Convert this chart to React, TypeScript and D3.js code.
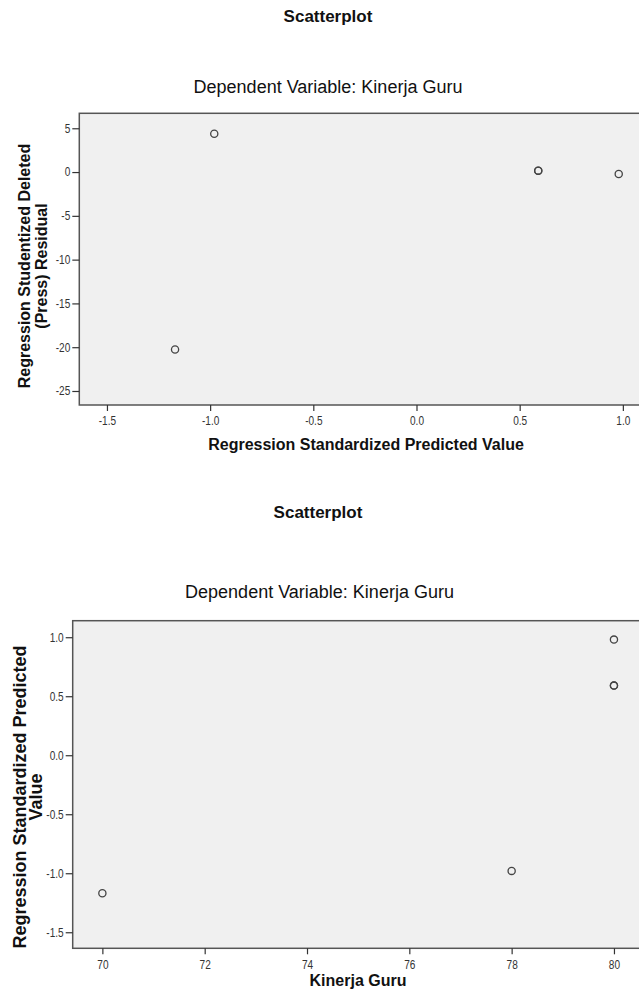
import React, { useEffect, useRef } from "react";
import * as d3 from "d3";

// Cases (same five cases in both plots)
const predictedValue = [-1.17, -0.98, 0.59, 0.59, 0.98];
const deletedResidual = [-20.27, 4.38, 0.16, 0.16, -0.22];
const kinerjaGuru = [70, 78, 80, 80, 80];

// Tick labels
const topXTicks = [-1.5, -1.0, -0.5, 0.0, 0.5, 1.0];
const topYTicks = [5, 0, -5, -10, -15, -20, -25];
const botXTicks = [70, 72, 74, 76, 78, 80];
const botYTicks = [1.0, 0.5, 0.0, -0.5, -1.0, -1.5];

const W = 639;
const H = 1000;
const FONT = "'Liberation Sans', Arial, Helvetica, sans-serif";
const TICK_FS = 12;
const TICK_SX = 0.84;

type PanelCfg = {
  left: number; top: number; bottom: number; right: number;
  xDomain: [number, number]; yDomain: [number, number];
  xs: number[]; ys: number[];
  xTicks: number[]; yTicks: number[];
  xFmt: (d: number) => string; yFmt: (d: number) => string;
  title: string; titleX: number; titleY: number;
  subtitle: string; subX: number; subY: number;
  xTitle: string; xTitleX: number; xTitleY: number;
  yTitle: string[]; yTitleCenter: number; yTitleBases: number[]; yTitleSize: number;
  xTickPad: number;
};

function drawPanel(svg: d3.Selection<SVGSVGElement, unknown, null, undefined>, c: PanelCfg) {
  const g = svg.append("g");
  const x = d3.scaleLinear().domain(c.xDomain).range([c.left, c.right]);
  const y = d3.scaleLinear().domain(c.yDomain).range([c.bottom, c.top]);

  g.append("text").attr("x", c.titleX).attr("y", c.titleY).attr("text-anchor", "middle")
    .attr("font-family", FONT).attr("font-weight", "bold").attr("font-size", 17).attr("fill", "#111").text(c.title);
  g.append("text").attr("x", c.subX).attr("y", c.subY).attr("text-anchor", "middle")
    .attr("font-family", FONT).attr("font-size", 18).attr("fill", "#111").text(c.subtitle);

  g.append("rect").attr("x", c.left).attr("y", c.top)
    .attr("width", c.right - c.left).attr("height", c.bottom - c.top)
    .attr("fill", "#f0f0f0").attr("stroke", "#555").attr("stroke-width", 1.5);

  const xAxis = g.append("g").attr("transform", `translate(0,${c.bottom})`)
    .call(d3.axisBottom(x).tickValues(c.xTicks).tickFormat((d: any) => c.xFmt(+d)).tickSize(6).tickPadding(c.xTickPad).tickSizeOuter(0));
  xAxis.select(".domain").remove();
  xAxis.selectAll("line").attr("stroke", "#333").attr("stroke-width", 1.2);
  xAxis.selectAll("text").attr("font-family", FONT).attr("font-size", TICK_FS).attr("fill", "#333")
    .attr("transform", `scale(${TICK_SX},1)`).attr("x", 0);

  const yAxis = g.append("g").attr("transform", `translate(${c.left},0)`)
    .call(d3.axisLeft(y).tickValues(c.yTicks).tickFormat((d: any) => c.yFmt(+d)).tickSize(7).tickPadding(2).tickSizeOuter(0));
  yAxis.select(".domain").remove();
  yAxis.selectAll("line").attr("stroke", "#333").attr("stroke-width", 1.2);
  yAxis.selectAll("text").attr("font-family", FONT).attr("font-size", TICK_FS).attr("fill", "#333")
    .attr("x", 0).attr("transform", `translate(-9,0) scale(${TICK_SX},1)`);

  g.append("text").attr("x", c.xTitleX).attr("y", c.xTitleY).attr("text-anchor", "middle")
    .attr("font-family", FONT).attr("font-weight", "bold").attr("font-size", 16).attr("fill", "#111").text(c.xTitle);

  c.yTitle.forEach((line, i) => {
    g.append("text")
      .attr("transform", `translate(${c.yTitleBases[i]},${c.yTitleCenter}) rotate(-90)`)
      .attr("text-anchor", "middle").attr("font-family", FONT).attr("font-weight", "bold")
      .attr("font-size", c.yTitleSize).attr("fill", "#111").text(line);
  });

  const pts = c.xs.map((v, i) => [v, c.ys[i]] as [number, number]);
  g.append("g").selectAll("circle").data(pts).join("circle")
    .attr("cx", (d) => x(d[0])).attr("cy", (d) => y(d[1])).attr("r", 3.6)
    .attr("fill", "none").attr("stroke", "#444").attr("stroke-width", 1.3);
}

export default function App() {
  const ref = useRef<SVGSVGElement>(null);
  useEffect(() => {
    if (!ref.current) return;
    const svg = d3.select(ref.current);
    svg.selectAll("*").remove();
    svg.append("rect").attr("width", W).attr("height", H).attr("fill", "#fff");

    drawPanel(svg, {
      left: 79.3, top: 113.3, bottom: 405, right: 660,
      xDomain: [-1.634, 1.18], yDomain: [-26.6, 6.71],
      xs: predictedValue, ys: deletedResidual,
      xTicks: topXTicks, yTicks: topYTicks,
      xFmt: (d) => d.toFixed(1), yFmt: (d) => String(d),
      title: "Scatterplot", titleX: 328, titleY: 22,
      subtitle: "Dependent Variable: Kinerja Guru", subX: 328, subY: 93,
      xTitle: "Regression Standardized Predicted Value", xTitleX: 366, xTitleY: 450,
      yTitle: ["Regression Studentized Deleted", "(Press) Residual"], yTitleCenter: 266,
      yTitleBases: [30, 47], yTitleSize: 16, xTickPad: 5,
    });

    drawPanel(svg, {
      left: 72.7, top: 620.7, bottom: 948.3, right: 660,
      xDomain: [69.42, 80.9], yDomain: [-1.636, 1.14],
      xs: kinerjaGuru, ys: predictedValue,
      xTicks: botXTicks, yTicks: botYTicks,
      xFmt: (d) => String(d), yFmt: (d) => d.toFixed(1),
      title: "Scatterplot", titleX: 318, titleY: 518,
      subtitle: "Dependent Variable: Kinerja Guru", subX: 319.5, subY: 598,
      xTitle: "Kinerja Guru", xTitleX: 358, xTitleY: 986,
      yTitle: ["Regression Standardized Predicted", "Value"], yTitleCenter: 797,
      yTitleBases: [26, 42], yTitleSize: 18, xTickPad: 6,
    });
  }, []);
  return (
    <svg ref={ref} width={W} height={H}
      style={{ position: "absolute", left: 0, top: 0, display: "block" }} />
  );
}
